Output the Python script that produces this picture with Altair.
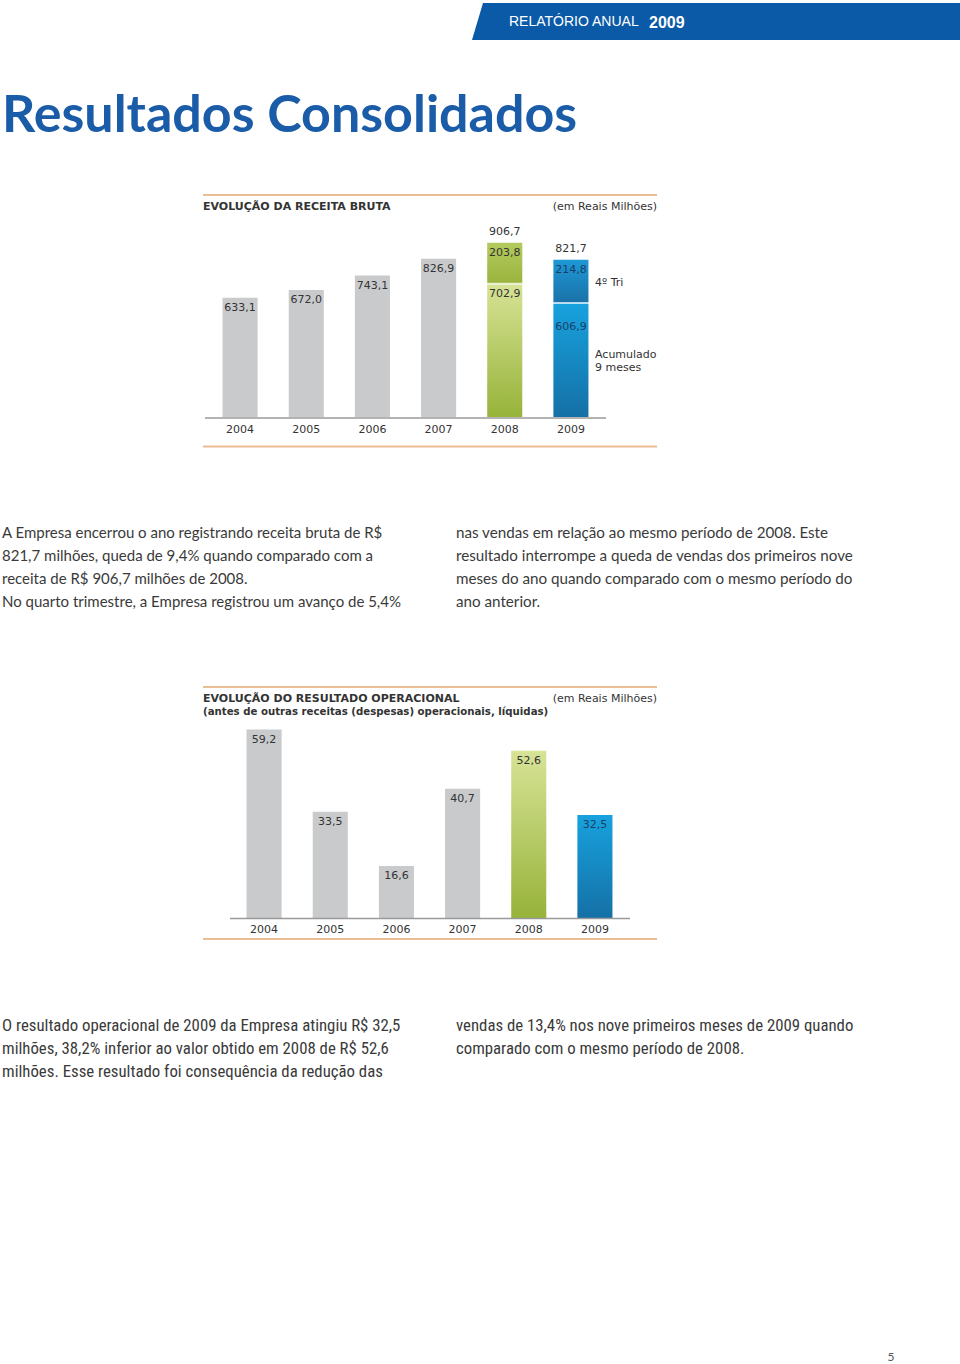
import altair as alt
import pandas as pd

# ---------------- data ----------------
anos = ["2004", "2005", "2006", "2007", "2008", "2009"]
receita_total = [633.1, 672.0, 743.1, 826.9, 906.7, 821.7]
receita_9m = [None, None, None, None, 702.9, 606.9]
receita_4t = [None, None, None, None, 203.8, 214.8]
resultado_op = [59.2, 33.5, 16.6, 40.7, 52.6, 32.5]

titulo = "Resultados Consolidados"
cabecalho = "RELATÓRIO ANUAL"
cabecalho_ano = "2009"
graf1_titulo = "EVOLUÇÃO DA RECEITA BRUTA"
graf2_titulo = "EVOLUÇÃO DO RESULTADO OPERACIONAL"
graf2_subtitulo = "(antes de outras receitas (despesas) operacionais, líquidas)"
unidade = "(em Reais Milhões)"
leg_tri = "4º Tri"
leg_acum = ["Acumulado", "9 meses"]

texto1_esq = [
    "A Empresa encerrou o ano registrando receita bruta de R$",
    "821,7 milhões, queda de 9,4% quando comparado com a",
    "receita de R$ 906,7 milhões de 2008.",
    "No quarto trimestre, a Empresa registrou um avanço de 5,4%",
]
texto1_dir = [
    "nas vendas em relação ao mesmo período de 2008. Este",
    "resultado interrompe a queda de vendas dos primeiros nove",
    "meses do ano quando comparado com o mesmo período do",
    "ano anterior.",
]
texto2_esq = [
    "O resultado operacional de 2009 da Empresa atingiu R$ 32,5",
    "milhões, 38,2% inferior ao valor obtido em 2008 de R$ 52,6",
    "milhões. Esse resultado foi consequência da redução das",
]
texto2_dir = [
    "vendas de 13,4% nos nove primeiros meses de 2009 quando",
    "comparado com o mesmo período de 2008.",
]
pagina = "5"


def br(v):
    return None if v is None else f"{v:.1f}".replace(".", ",")


df1 = pd.DataFrame({
    "ano": anos,
    "total": receita_total,
    "acum9": receita_9m,
    "tri4": receita_4t,
    "rot_total": [br(v) for v in receita_total],
    "rot_acum9": [br(v) for v in receita_9m],
    "rot_tri4": [br(v) for v in receita_4t],
})
df2 = pd.DataFrame({
    "ano": anos,
    "valor": resultado_op,
    "rot": [br(v) for v in resultado_op],
})

# ---------------- styles ----------------
CF = "DejaVu Sans"
BODY = "Lato"
BLUE_HEAD = "#0b5aa7"
GRAY_BAR = "#c9cacc"
ORANGE = "#ebbd92"
TXT = "#333333"
DARKBLUE = "#173f68"


def grad(top, bottom):
    return alt.LinearGradient(
        gradient="linear",
        stops=[alt.GradientStop(color=top, offset=0), alt.GradientStop(color=bottom, offset=1)],
        x1=0, x2=0, y1=0, y2=1,
    )


one = alt.Data(values=[{}])


def txt(s, x, y, size=11, font=CF, weight="normal", color=TXT, align="left", baseline="middle"):
    return alt.Chart(one).mark_text(
        text=s, font=font, fontSize=size, fontWeight=weight, color=color,
        align=align, baseline=baseline,
    ).encode(x=alt.value(x), y=alt.value(y))


def hrule(x1, x2, y, color, w):
    return alt.Chart(one).mark_rule(color=color, strokeWidth=w).encode(
        x=alt.value(x1), x2=alt.value(x2), y=alt.value(y)
    )


layers = []

# header band
layers.append(alt.Chart(one).mark_rect(color=BLUE_HEAD).encode(
    x=alt.value(483), x2=alt.value(960), y=alt.value(3), y2=alt.value(40)))
layers.append(alt.Chart(one).mark_point(
    shape="M -0.595 1 L 0 -1 L 0 1 Z", size=1369, filled=True, color=BLUE_HEAD, opacity=1, strokeWidth=0
).encode(x=alt.value(483), y=alt.value(21.5)))
layers.append(txt(cabecalho, 509, 22, size=14, font="Liberation Sans", color="white"))
layers.append(txt(cabecalho_ano, 649, 22.5, size=16, font="Liberation Sans", weight="bold", color="white"))

# main title
layers.append(txt(titulo, 2, 116, size=52, font="Lato", weight="bold", color="#1b5ca8"))

# ---------------- chart 1 ----------------
X1 = alt.X("ano:N", scale=alt.Scale(domain=anos, range=[207, 604], paddingInner=0.47, paddingOuter=0.235), axis=None)
Y1s = alt.Scale(domain=[40, 940], range=[417, 236])


def Y1(f):
    return alt.Y(f"{f}:Q", scale=Y1s, axis=None)


base1 = alt.Chart(df1)
gray_years = anos[:4]

layers.append(hrule(203, 657, 195, ORANGE, 2))
layers.append(hrule(203, 657, 446.5, ORANGE, 2))
layers.append(txt(graf1_titulo, 203, 207, weight="bold"))
layers.append(txt(unidade, 657, 207, align="right"))

layers.append(base1.transform_filter(alt.FieldOneOfPredicate(field="ano", oneOf=gray_years))
              .mark_bar(color=GRAY_BAR).encode(x=X1, y=Y1("total"), y2=alt.datum(40)))
layers.append(base1.transform_filter(alt.datum.ano == "2008")
              .mark_bar(color=grad("#d7e396", "#97b33a")).encode(x=X1, y=Y1("acum9"), y2=alt.datum(40)))
layers.append(base1.transform_filter(alt.datum.ano == "2008")
              .mark_bar(color=grad("#b4ca5e", "#9ab43e")).encode(x=X1, y=Y1("total"), y2=alt.Y2("acum9:Q")))
layers.append(base1.transform_filter(alt.datum.ano == "2009")
              .mark_bar(color=grad("#17a2de", "#1570a6")).encode(x=X1, y=Y1("acum9"), y2=alt.datum(40)))
layers.append(base1.transform_filter(alt.datum.ano == "2009")
              .mark_bar(color=grad("#1e98d6", "#1a72a8")).encode(x=X1, y=Y1("total"), y2=alt.Y2("acum9:Q")))
layers.append(base1.transform_filter("isValid(datum.acum9)")
              .mark_tick(color="white", thickness=2, size=36).encode(x=X1, y=Y1("acum9")))

layers.append(alt.Chart(one).mark_rule(color="#9a9a9a", strokeWidth=1.5).encode(
    x=alt.value(205), x2=alt.value(606), y=alt.value(418)))

layers.append(base1.transform_filter(alt.FieldOneOfPredicate(field="ano", oneOf=gray_years))
              .mark_text(font=CF, fontSize=11, color=TXT, dy=10)
              .encode(x=X1, y=Y1("total"), text="rot_total:N"))
layers.append(base1.transform_filter(alt.FieldOneOfPredicate(field="ano", oneOf=["2008", "2009"]))
              .mark_text(font=CF, fontSize=11, color=TXT, dy=-11)
              .encode(x=X1, y=Y1("total"), text="rot_total:N"))
layers.append(base1.transform_filter(alt.datum.ano == "2008")
              .mark_text(font=CF, fontSize=11, color=TXT, dy=10)
              .encode(x=X1, y=Y1("total"), text="rot_tri4:N"))
layers.append(base1.transform_filter(alt.datum.ano == "2008")
              .mark_text(font=CF, fontSize=11, color=TXT, dy=10)
              .encode(x=X1, y=Y1("acum9"), text="rot_acum9:N"))
layers.append(base1.transform_filter(alt.datum.ano == "2009")
              .mark_text(font=CF, fontSize=11, color=DARKBLUE, dy=10)
              .encode(x=X1, y=Y1("total"), text="rot_tri4:N"))
layers.append(base1.transform_filter(alt.datum.ano == "2009")
              .mark_text(font=CF, fontSize=11, color=DARKBLUE, dy=24)
              .encode(x=X1, y=Y1("acum9"), text="rot_acum9:N"))
layers.append(base1.mark_text(font=CF, fontSize=11, color=TXT)
              .encode(x=X1, y=alt.value(430), text="ano:N"))

layers.append(txt(leg_tri, 595, 283))
layers.append(txt(leg_acum[0], 595, 355))
layers.append(txt(leg_acum[1], 595, 368))

# ---------------- text block 1 ----------------
for i, s in enumerate(texto1_esq):
    layers.append(txt(s, 2, 533 + 23 * i, size=15, font=BODY, color="#3a3a3a"))
for i, s in enumerate(texto1_dir):
    layers.append(txt(s, 456, 533 + 23 * i, size=15.2, font=BODY, color="#3a3a3a"))

# ---------------- chart 2 ----------------
X2 = alt.X("ano:N", scale=alt.Scale(domain=anos, range=[231, 628], paddingInner=0.47, paddingOuter=0.235), axis=None)
Y2s = alt.Scale(domain=[0, 60], range=[919, 727])


def Y2(f):
    return alt.Y(f"{f}:Q", scale=Y2s, axis=None)


base2 = alt.Chart(df2)
layers.append(hrule(203, 657, 687, ORANGE, 2))
layers.append(hrule(203, 657, 939, ORANGE, 2))
layers.append(txt(graf2_titulo, 203, 699, weight="bold"))
layers.append(txt(graf2_subtitulo, 203, 712, size=10.2, weight="bold"))
layers.append(txt(unidade, 657, 699, align="right"))

layers.append(base2.transform_filter(alt.FieldOneOfPredicate(field="ano", oneOf=gray_years))
              .mark_bar(color=GRAY_BAR).encode(x=X2, y=Y2("valor"), y2=alt.datum(0)))
layers.append(base2.transform_filter(alt.datum.ano == "2008")
              .mark_bar(color=grad("#d7e396", "#97b33a")).encode(x=X2, y=Y2("valor"), y2=alt.datum(0)))
layers.append(base2.transform_filter(alt.datum.ano == "2009")
              .mark_bar(color=grad("#17a2de", "#1570a6")).encode(x=X2, y=Y2("valor"), y2=alt.datum(0)))
layers.append(alt.Chart(one).mark_rule(color="#9a9a9a", strokeWidth=1.5).encode(
    x=alt.value(230), x2=alt.value(630), y=alt.value(918.5)))
layers.append(base2.transform_filter(alt.datum.ano != "2009")
              .mark_text(font=CF, fontSize=11, color=TXT, dy=10)
              .encode(x=X2, y=Y2("valor"), text="rot:N"))
layers.append(base2.transform_filter(alt.datum.ano == "2009")
              .mark_text(font=CF, fontSize=11, color=DARKBLUE, dy=10)
              .encode(x=X2, y=Y2("valor"), text="rot:N"))
layers.append(base2.mark_text(font=CF, fontSize=11, color=TXT)
              .encode(x=X2, y=alt.value(930), text="ano:N"))

# ---------------- text block 2 ----------------
NARROW = "Liberation Sans Narrow, Roboto Condensed, DejaVu Sans Condensed, Lato"
for i, s in enumerate(texto2_esq):
    layers.append(txt(s, 2, 1026 + 23 * i, size=16.8, font=NARROW, color="#3a3a3a"))
for i, s in enumerate(texto2_dir):
    layers.append(txt(s, 456, 1026 + 23 * i, size=16.8, font=NARROW, color="#3a3a3a"))

layers.append(txt(pagina, 891, 1357, size=12, font=BODY, color="#555555", align="center"))

chart = alt.layer(*layers).resolve_scale(x="independent", y="independent").properties(
    width=960, height=1364, padding=0,
    autosize=alt.AutoSizeParams(type="none"),
    background="white",
).configure_view(stroke=None)

chart.save("out.html", embed_options={"renderer": "svg", "actions": False})
